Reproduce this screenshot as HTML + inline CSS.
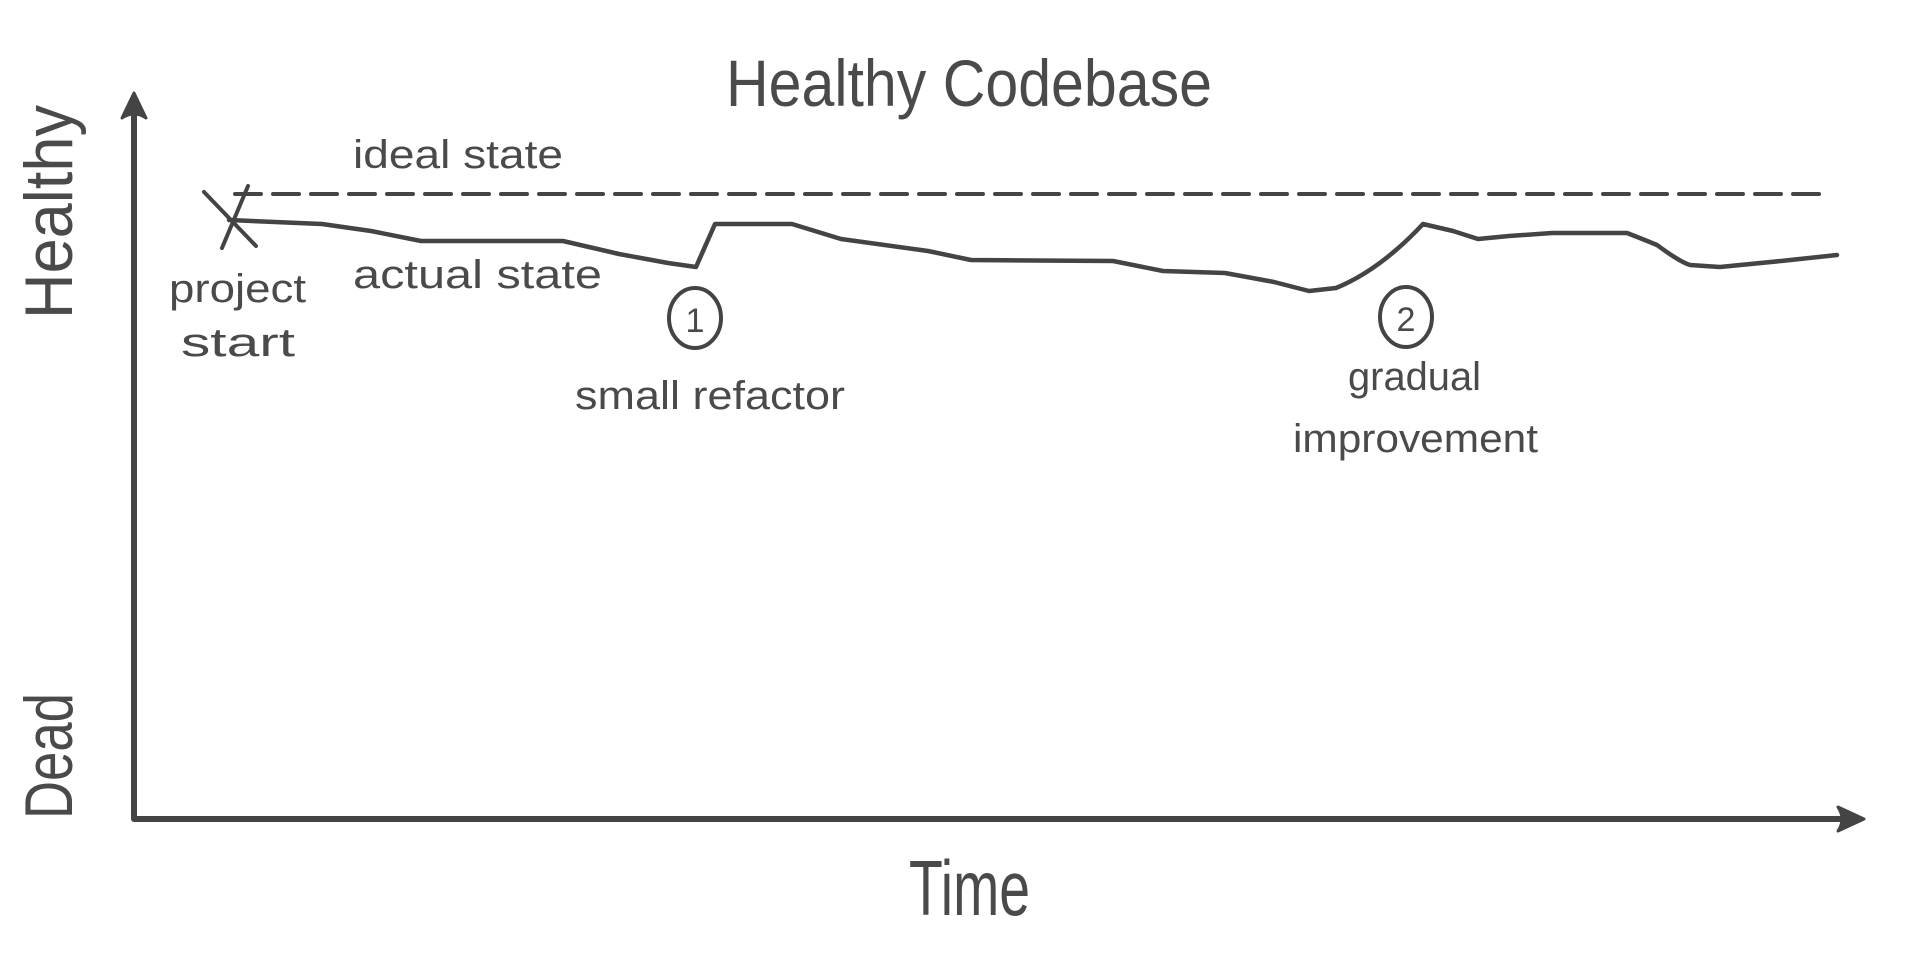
<!DOCTYPE html>
<html><head><meta charset="utf-8"><style>html,body{margin:0;padding:0;background:#fff}svg{display:block}</style></head>
<body>
<svg width="1920" height="960" viewBox="0 0 1920 960" xmlns="http://www.w3.org/2000/svg">
<g fill="#4a4a4a" font-family="'Liberation Sans Narrow','Liberation Sans',sans-serif" font-weight="normal">
<text x="726" y="106" font-size="66" textLength="486" lengthAdjust="spacingAndGlyphs">Healthy Codebase</text>
<text x="353" y="168" font-size="40" textLength="210" lengthAdjust="spacingAndGlyphs">ideal state</text>
<text x="169" y="302" font-size="40" textLength="137" lengthAdjust="spacingAndGlyphs">project</text>
<text x="181" y="356" font-size="40" textLength="114" lengthAdjust="spacingAndGlyphs">start</text>
<text x="353" y="288" font-size="40" textLength="249" lengthAdjust="spacingAndGlyphs">actual state</text>
<text x="575" y="409" font-size="40" textLength="270" lengthAdjust="spacingAndGlyphs">small refactor</text>
<text x="1348" y="390" font-size="40" textLength="133" lengthAdjust="spacingAndGlyphs">gradual</text>
<text x="1293" y="452" font-size="40" textLength="245" lengthAdjust="spacingAndGlyphs">improvement</text>
<text x="909" y="915" font-size="78" textLength="121" lengthAdjust="spacingAndGlyphs">Time</text>
<text transform="translate(72,319) rotate(-90)" font-size="68" textLength="214" lengthAdjust="spacingAndGlyphs">Healthy</text>
<text transform="translate(72,819) rotate(-90)" font-size="68" textLength="126" lengthAdjust="spacingAndGlyphs">Dead</text>
<text x="695" y="332" font-size="34" text-anchor="middle">1</text>
<text x="1406" y="331" font-size="34" text-anchor="middle">2</text>
</g>
<g fill="none" stroke="#444" stroke-linecap="round" stroke-linejoin="round">
<path d="M134 100 L134 819 L1852 819" stroke-width="6"/>
<path d="M122 118 L134 93 L146 118 Q134 110 122 118Z" fill="#444" stroke-width="3"/>
<path d="M1838 807 L1864 819 L1838 831 Q1846 819 1838 807Z" fill="#444" stroke-width="3"/>
<path d="M235 194 L1825 194" stroke-width="4" stroke-dasharray="26 12"/>
<path d="M204 192 L256 246 M248 186 L222 248" stroke-width="4"/>
<path d="M229 220 L322 224 L371 231 L421 241 L563 241 L619 254 L668 263 L696 267 L715 224 L792 224 L841 239 L928 251 L971 260 L1113 261 L1163 271 L1225 273 L1274 282 L1309 291 L1336 288 Q1380 270 1423 224 L1453 231 L1478 239 L1509 236 L1552 233 L1627 233 Q1645 240 1657 245 Q1680 262 1690 265 L1720 267 L1781 261 L1837 255" stroke-width="4.5"/>
<ellipse cx="695" cy="318" rx="26" ry="30" stroke-width="4"/>
<ellipse cx="1406" cy="317" rx="26" ry="30" stroke-width="4"/>
</g>
</svg>
</body></html>
